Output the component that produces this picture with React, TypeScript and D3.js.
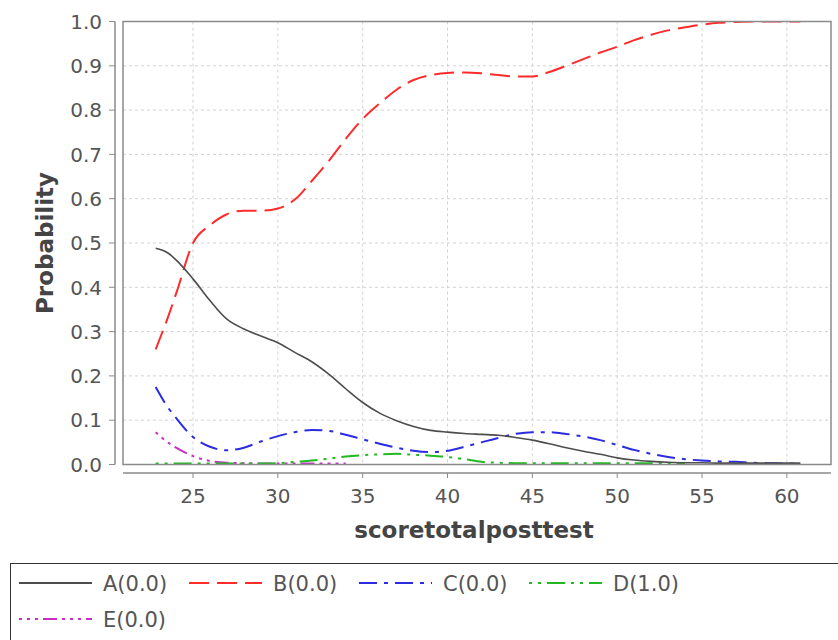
import React from 'react';
import * as d3 from 'd3';

const xValues = [22.8, 23.5, 24, 25, 26, 27, 28, 29, 30, 31, 32, 33, 34, 35, 36, 37, 38, 39, 40, 41, 42, 43, 44, 45, 46, 47, 48, 49, 50, 51, 52, 53, 54, 55, 56, 57, 58, 59, 60, 60.8];
const seriesA = [0.488, 0.478, 0.462, 0.419, 0.37, 0.328, 0.306, 0.29, 0.275, 0.253, 0.232, 0.204, 0.171, 0.14, 0.116, 0.099, 0.086, 0.077, 0.073, 0.07, 0.068, 0.066, 0.061, 0.055, 0.047, 0.038, 0.03, 0.023, 0.015, 0.01, 0.007, 0.005, 0.004, 0.004, 0.003, 0.003, 0.003, 0.003, 0.003, 0.003];
const seriesB = [0.26, 0.33, 0.385, 0.5, 0.54, 0.565, 0.573, 0.573, 0.578, 0.598, 0.64, 0.685, 0.735, 0.78, 0.815, 0.846, 0.868, 0.879, 0.884, 0.885, 0.883, 0.879, 0.876, 0.876, 0.886, 0.9, 0.915, 0.93, 0.943, 0.958, 0.97, 0.98, 0.987, 0.993, 0.997, 0.999, 1, 1, 1, 1];
const seriesC = [0.175, 0.13, 0.105, 0.062, 0.04, 0.032, 0.038, 0.052, 0.064, 0.073, 0.078, 0.076, 0.067, 0.057, 0.047, 0.038, 0.031, 0.028, 0.031, 0.04, 0.05, 0.06, 0.069, 0.073, 0.073, 0.069, 0.063, 0.055, 0.044, 0.033, 0.024, 0.017, 0.012, 0.009, 0.007, 0.006, 0.004, 0.003, 0.002, 0.002];
const seriesD: (number | null)[] = [0.002, 0.002, 0.002, 0.002, 0.002, 0.002, 0.002, 0.002, 0.003, 0.006, 0.009, 0.013, 0.018, 0.021, 0.023, 0.024, 0.022, 0.02, 0.017, 0.012, 0.006, 0.004, 0.003, 0.003, 0.003, 0.003, 0.003, 0.003, 0.003, 0.003, 0.003, 0.003, 0.003, null, null, null, null, null, null, null];
const seriesE: (number | null)[] = [0.073, 0.05, 0.038, 0.019, 0.008, 0.004, 0.003, 0.002, 0.002, 0.002, 0.002, 0.002, 0.002, null, null, null, null, null, null, null, null, null, null, null, null, null, null, null, null, null, null, null, null, null, null, null, null, null, null, null];

const seriesNames = ['A(0.0)', 'B(0.0)', 'C(0.0)', 'D(1.0)', 'E(0.0)'];
const seriesValues = [seriesA, seriesB, seriesC, seriesD, seriesE];
const seriesColors = ['#4d4d4d', '#ff2b2b', '#2b2be0', '#22b822', '#c430c4'];
const seriesDashes = ['none', '20,8', '18,7,4,7', '3,6,3,6,18,6', '3,5,3,5,3,5,14,5'];

const xTicks = [25, 30, 35, 40, 45, 50, 55, 60];
const yTicks = [0, 0.1, 0.2, 0.3, 0.4, 0.5, 0.6, 0.7, 0.8, 0.9, 1.0];

const W = 838, H = 640;
const plot = { left: 123, right: 831, top: 21.5, bottom: 464.5 };
const FONT = '"DejaVu Sans", sans-serif';

export default function App() {
  const x = d3.scaleLinear().domain([20.875, 62.6]).range([plot.left, plot.right]);
  const y = d3.scaleLinear().domain([0, 1]).range([plot.bottom, plot.top]);

  const lineGen = d3
    .line<[number, number | null]>()
    .defined((d) => d[1] !== null)
    .x((d) => x(d[0]))
    .y((d) => y(d[1] as number))
    .curve(d3.curveMonotoneX);

  const order = [4, 3, 2, 1, 0];
  const legendItemW = 170;

  return (
    <svg width={W} height={H} style={{ position: 'absolute', left: 0, top: 0, background: '#fff' }} fontFamily={FONT}>
      <defs>
        <clipPath id="plotClip">
          <rect x={plot.left} y={plot.top} width={plot.right - plot.left} height={plot.bottom - plot.top} />
        </clipPath>
      </defs>
      <rect x={0} y={0} width={W} height={H} fill="#fff" />
      {/* grid */}
      <g stroke="#d2d2d2" strokeWidth={1} strokeDasharray="3,3">
        {xTicks.map((t) => (
          <line key={'gx' + t} x1={x(t)} x2={x(t)} y1={plot.top} y2={plot.bottom} />
        ))}
        {yTicks.slice(1, -1).map((t) => (
          <line key={'gy' + t} x1={plot.left} x2={plot.right} y1={y(t)} y2={y(t)} />
        ))}
      </g>
      {/* series */}
      <g clipPath="url(#plotClip)" fill="none">
        {order.map((i) => (
          <path
            key={'s' + i}
            d={lineGen(xValues.map((xv, k) => [xv, seriesValues[i][k]] as [number, number | null])) || ''}
            stroke={seriesColors[i]}
            strokeWidth={i === 0 ? 1.6 : 2}
            strokeDasharray={seriesDashes[i]}
            strokeLinecap="butt"
          />
        ))}
      </g>
      {/* frame */}
      <rect x={plot.left} y={plot.top} width={plot.right - plot.left} height={plot.bottom - plot.top} fill="none" stroke="#8a8a8a" strokeWidth={1.5} />
      {/* y axis */}
      <line x1={115} x2={115} y1={plot.top} y2={plot.bottom} stroke="#8a8a8a" strokeWidth={1.5} />
      {yTicks.map((t) => (
        <g key={'yt' + t}>
          <line x1={109} x2={115} y1={y(t)} y2={y(t)} stroke="#8a8a8a" strokeWidth={1} />
          <text x={102} y={y(t)} dy="0.36em" textAnchor="end" fontSize={20} fill="#555">
            {t.toFixed(1)}
          </text>
        </g>
      ))}
      {/* x axis */}
      <line x1={plot.left} x2={plot.right} y1={473} y2={473} stroke="#8a8a8a" strokeWidth={1.5} />
      {xTicks.map((t) => (
        <g key={'xt' + t}>
          <line x1={x(t)} x2={x(t)} y1={473} y2={478} stroke="#8a8a8a" strokeWidth={1} />
          <text x={x(t)} y={503} textAnchor="middle" fontSize={20} fill="#555">
            {t}
          </text>
        </g>
      ))}
      {/* axis labels */}
      <text x={474} y={538} textAnchor="middle" fontSize={23} fontWeight="bold" fill="#444">
        scoretotalposttest
      </text>
      <text transform="translate(53,243) rotate(-90)" textAnchor="middle" fontSize={23} fontWeight="bold" fill="#444">
        Probability
      </text>
      {/* legend */}
      <rect x={10.5} y={563.5} width={840} height={90} fill="#fff" stroke="#333" strokeWidth={1} />
      {seriesNames.map((name, i) => {
        const row = i < 4 ? 0 : 1;
        const col = i < 4 ? i : i - 4;
        const lx = 19 + col * legendItemW;
        const ly = row === 0 ? 583 : 619;
        return (
          <g key={'lg' + i}>
            <line x1={lx} x2={lx + 73} y1={ly} y2={ly} stroke={seriesColors[i]} strokeWidth={2} strokeDasharray={seriesDashes[i]} />
            <text x={lx + 84} y={ly} dy="0.36em" fontSize={21} fill="#555">
              {name}
            </text>
          </g>
        );
      })}
    </svg>
  );
}
